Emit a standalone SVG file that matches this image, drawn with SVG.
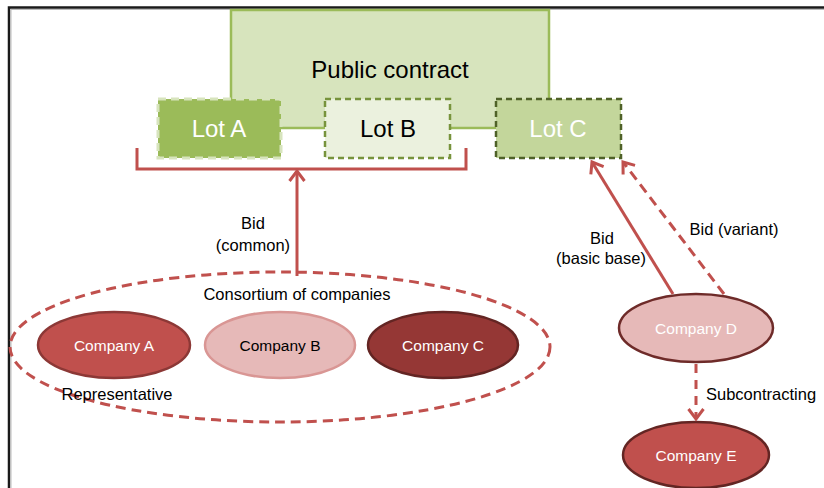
<svg xmlns="http://www.w3.org/2000/svg" width="824" height="488" viewBox="0 0 824 488">
  <style>
    text { font-family: "Liberation Sans", Arial, sans-serif; text-anchor: middle; }
    .lbl { font-size: 16.5px; fill: #000; }
    .co { font-size: 15.5px; }
    .lot { font-size: 24px; }
    .wire { fill: none; stroke: #c0504d; stroke-width: 3; }
    .dash { stroke-dasharray: 10 6; }
  </style>
  <defs>
    <marker id="chev" markerUnits="userSpaceOnUse" markerWidth="24" markerHeight="24" viewBox="-14 -12 18 24" refX="0" refY="0" orient="auto">
      <path d="M-10,-7.5 L0,0 L-10,7.5" fill="none" stroke="#c0504d" stroke-width="3" stroke-linejoin="miter"/>
    </marker>
  </defs>

  <rect width="824" height="488" fill="#fff"/>
  <!-- page frame -->
  <path d="M9,488 V7.5 H824" fill="none" stroke="#1a1a1a" stroke-width="2.5"/>
  <path d="M11,488 V9.5 H824" fill="none" stroke="#bbb" stroke-width="1"/>

  <g id="public-contract">
    <rect x="231" y="10" width="318" height="118" fill="#d7e4bd" stroke="#9bbb59" stroke-width="2.5"/>
    <text x="390" y="78" font-size="24" fill="#000">Public contract</text>
  </g>
  <g id="lot-a">
    <rect x="158" y="99" width="123" height="59" fill="#9bbb59" stroke="#d7e4bd" stroke-width="3" stroke-dasharray="8 5"/>
    <text class="lot" x="219" y="137" fill="#fff">Lot A</text>
  </g>
  <g id="lot-b">
    <rect x="325" y="99" width="125" height="59" fill="#ebf1de" stroke="#77933c" stroke-width="2.5" stroke-dasharray="6 4"/>
    <text class="lot" x="388" y="137" fill="#000">Lot B</text>
  </g>
  <g id="lot-c">
    <rect x="496" y="99" width="125" height="59" fill="#c3d69b" stroke="#4f6228" stroke-width="2.5" stroke-dasharray="6 4"/>
    <text class="lot" x="558" y="137" fill="#fff">Lot C</text>
  </g>

  <g id="consortium">
    <ellipse cx="280" cy="347" rx="270" ry="75" fill="none" stroke="#c0504d" stroke-width="3" stroke-dasharray="10 6"/>
    <text class="lbl" x="297" y="300">Consortium of companies</text>
    <text class="lbl" x="117" y="400">Representative</text>
  </g>
  <g id="company-a">
    <ellipse cx="114" cy="345" rx="76" ry="33" fill="#c0504d" stroke="#8c3836" stroke-width="2.5"/>
    <text class="co" x="114" y="351" fill="#fff">Company A</text>
  </g>
  <g id="company-b">
    <ellipse cx="280" cy="345" rx="75" ry="33" fill="#e6b9b8" stroke="#d99694" stroke-width="2.5"/>
    <text class="co" x="280" y="351" fill="#000">Company B</text>
  </g>
  <g id="company-c">
    <ellipse cx="443" cy="345" rx="75" ry="33" fill="#953735" stroke="#632523" stroke-width="2.5"/>
    <text class="co" x="443" y="351" fill="#fff">Company C</text>
  </g>
  <g id="company-d">
    <ellipse cx="696" cy="328" rx="77" ry="34" fill="#e6b9b8" stroke="#6e2b29" stroke-width="2.5"/>
    <text class="co" x="696" y="334" fill="#fff">Company D</text>
  </g>
  <g id="company-e">
    <ellipse cx="696" cy="455" rx="73" ry="33" fill="#c0504d" stroke="#632523" stroke-width="2.5"/>
    <text class="co" x="696" y="461" fill="#fff">Company E</text>
  </g>

  <g id="connectors">
    <!-- bracket grouping Lot A and Lot B -->
    <path class="wire" d="M137,148 V169 H466 V148"/>
    <line class="wire" x1="297" y1="276" x2="297" y2="171" marker-end="url(#chev)"/>
    <text class="lbl" x="253" y="229">Bid</text>
    <text class="lbl" x="253" y="251">(common)</text>

    <line class="wire" x1="673" y1="294" x2="592" y2="162" marker-end="url(#chev)"/>
    <line class="wire dash" x1="724" y1="294" x2="623" y2="162" marker-end="url(#chev)"/>
    <text class="lbl" x="602" y="244">Bid</text>
    <text class="lbl" x="601" y="264">(basic base)</text>
    <text class="lbl" x="734" y="235">Bid (variant)</text>

    <line class="wire" x1="696" y1="364" x2="696" y2="419" stroke-dasharray="9 7" marker-end="url(#chev)"/>
    <text class="lbl" x="706" y="400" style="text-anchor:start">Subcontracting</text>
  </g>
</svg>
